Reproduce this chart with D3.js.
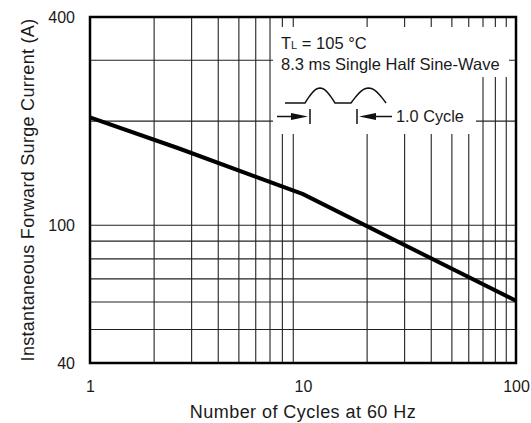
<!DOCTYPE html>
<html>

<head>
  <title>Surge current vs cycles</title>
  <meta charset="utf-8" />
  <script src="https://d3js.org/d3.v7.min.js"></script>
  <style>
    body { margin: 0; background: #fff; }
    text { font-family: "Liberation Sans", Arial, Helvetica, sans-serif; fill: #1a1a1a; }
  </style>
</head>

<body>
  <div id="chart"></div>
  <script type="text/javascript">

    // curve (cycles at 60 Hz -> peak surge amps)
    var cycles = [1, 2.6, 10, 100];
    var surgeAmps = [205, 167, 123, 60.5];

    var xTickValues = [1, 10, 100];
    var yTickValues = [40, 100, 400];
    var xGridValues = [2, 3, 4, 5, 6, 7, 8, 9, 20, 30, 40, 50, 60, 70, 80, 90];
    var yGridValues = [50, 60, 70, 80, 90, 100, 200, 300];

    var width = 531, height = 423;
    var margin = { top: 17, right: 15, bottom: 60, left: 90 };

    var svg = d3.select("#chart").append("svg")
      .attr("width", width)
      .attr("height", height);

    svg.append("rect").attr("width", width).attr("height", height).attr("fill", "#fff");

    var x = d3.scaleLog().domain([1, 100]).range([margin.left, width - margin.right]);
    var y = d3.scaleLog().domain([40, 400]).range([height - margin.bottom, margin.top]);

    var g = svg.append("g");

    /* grid */
    g.selectAll("line.vgrid")
      .data(xGridValues)
      .enter().append("line")
      .attr("class", "vgrid")
      .attr("x1", d => x(d)).attr("x2", d => x(d))
      .attr("y1", y(400)).attr("y2", y(40))
      .attr("stroke", "#222").attr("stroke-width", 1.1);

    g.selectAll("line.hgrid")
      .data(yGridValues)
      .enter().append("line")
      .attr("class", "hgrid")
      .attr("x1", x(1)).attr("x2", x(100))
      .attr("y1", d => y(d)).attr("y2", d => y(d))
      .attr("stroke", "#222").attr("stroke-width", 1.1);

    /* white knockout behind the note */
    g.append("path")
      .attr("d", "M273,27 L509,27 L509,77 L476,77 L476,134 L273,134 Z")
      .attr("fill", "#fff");

    /* note text */
    var note = svg.append("g").style("font-size", "16.5px");
    var t1 = note.append("text").attr("x", 281).attr("y", 49);
    t1.append("tspan").text("T");
    t1.append("tspan").style("font-size", "11px").text("L");
    t1.append("tspan").text(" = 105 \u00B0C");
    note.append("text").attr("x", 281).attr("y", 70).text("8.3 ms Single Half Sine-Wave");
    note.append("text").attr("x", 396).attr("y", 122).style("font-size", "16.3px").text("1.0 Cycle");

    // little half sine picture
    var wave = d3.path();
    wave.moveTo(285, 103);
    wave.lineTo(305, 103);
    for (var i = 0; i <= 20; i++) {
      var t = i / 20;
      var px = 305 + t * 30, py = 103 - 15 * Math.sin(Math.PI * t);
      wave.lineTo(px, py);
    }
    wave.lineTo(351, 103);
    for (var j = 0; j <= 20; j++) {
      var u = j / 20;
      wave.lineTo(351 + u * 35, 103 - 15 * Math.sin(Math.PI * u));
    }
    note.append("path").attr("d", wave.toString())
      .attr("fill", "none").attr("stroke", "#111").attr("stroke-width", 1.5);

    // arrows marking one cycle
    note.append("line").attr("x1", 277).attr("x2", 300).attr("y1", 116.5).attr("y2", 116.5)
      .attr("stroke", "#111").attr("stroke-width", 1.5);
    note.append("path").attr("d", "M291,113 L308,116.5 L291,120 Z").attr("fill", "#111");
    note.append("line").attr("x1", 310).attr("x2", 310).attr("y1", 109).attr("y2", 124)
      .attr("stroke", "#111").attr("stroke-width", 1.5);

    note.append("line").attr("x1", 357).attr("x2", 357).attr("y1", 109).attr("y2", 124)
      .attr("stroke", "#111").attr("stroke-width", 1.5);
    note.append("path").attr("d", "M376,113 L359,116.5 L376,120 Z").attr("fill", "#111");
    note.append("line").attr("x1", 370).attr("x2", 392).attr("y1", 116.5).attr("y2", 116.5)
      .attr("stroke", "#111").attr("stroke-width", 1.5);

    /* the curve */
    var pts = cycles.map((c, i) => [c, surgeAmps[i]]);
    g.append("path")
      .datum(pts)
      .attr("d", d3.line().x(d => x(d[0])).y(d => y(d[1])))
      .attr("fill", "none")
      .attr("stroke", "#000")
      .attr("stroke-width", 4);

    /* frame */
    svg.append("rect")
      .attr("x", x(1)).attr("y", y(400))
      .attr("width", x(100) - x(1)).attr("height", y(40) - y(400))
      .attr("fill", "none").attr("stroke", "#000").attr("stroke-width", 2.5);

    /* axes, labels only */
    var xAxis = d3.axisBottom(x).tickValues(xTickValues).tickSize(0).tickPadding(18)
      .tickFormat(d3.format("d"));
    svg.append("g")
      .attr("transform", "translate(0," + y(40) + ")")
      .call(xAxis)
      .call(a => a.select(".domain").remove())
      .selectAll("text")
      .style("font-size", "16px")
      .style("font-family", "'Liberation Sans', Arial, sans-serif")
      .attr("fill", "#1a1a1a");

    var yAxis = d3.axisLeft(y).tickValues(yTickValues).tickSize(0).tickPadding(15)
      .tickFormat(d3.format("d"));
    svg.append("g")
      .attr("transform", "translate(" + x(1) + ",0)")
      .call(yAxis)
      .call(a => a.select(".domain").remove())
      .selectAll("text")
      .style("font-size", "16px")
      .style("font-family", "'Liberation Sans', Arial, sans-serif")
      .attr("fill", "#1a1a1a");

    svg.append("text")
      .attr("x", (x(1) + x(100)) / 2)
      .attr("y", 418)
      .attr("text-anchor", "middle")
      .style("font-size", "18px")
      .style("letter-spacing", "0.45px")
      .text("Number of Cycles at 60 Hz");

    svg.append("text")
      .attr("transform", "translate(34," + (y(40) + y(400)) / 2 + ") rotate(-90)")
      .attr("text-anchor", "middle")
      .style("font-size", "18px")
      .style("letter-spacing", "0.3px")
      .text("Instantaneous Forward Surge Current (A)");

  </script>
</body>

</html>
